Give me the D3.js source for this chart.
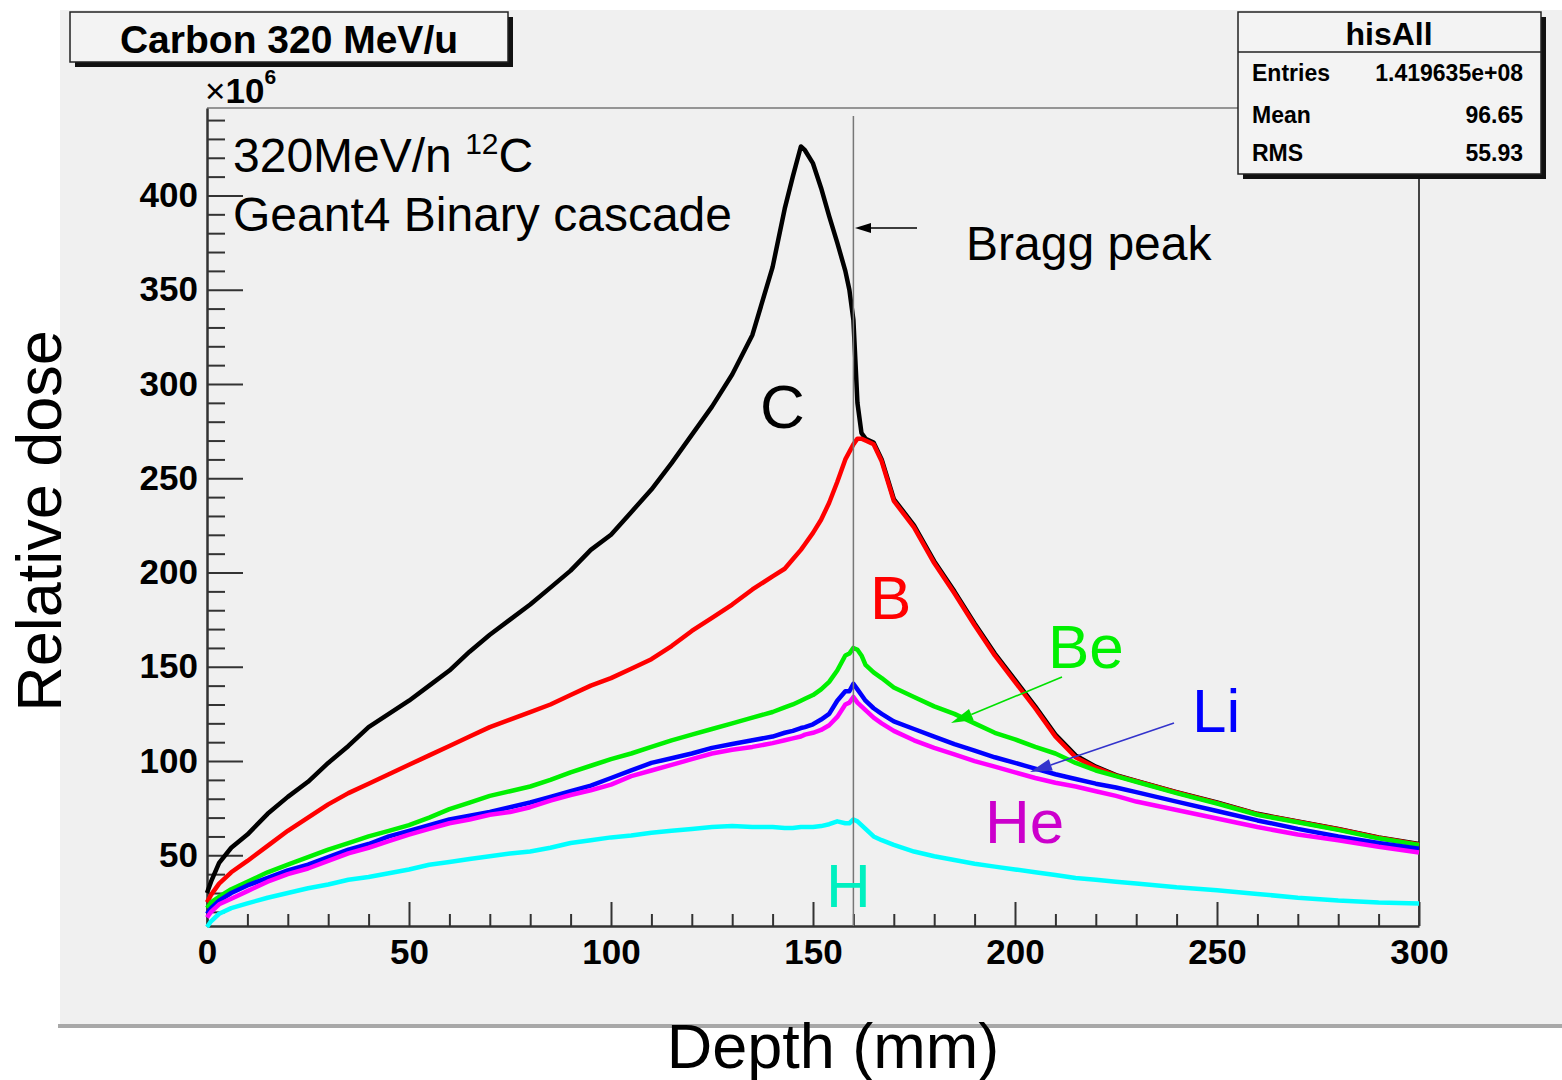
<!DOCTYPE html>
<html><head><meta charset="utf-8">
<script src="https://cdn.jsdelivr.net/npm/d3@7"></script>
<style>html,body{margin:0;padding:0;background:#fff;}svg{display:block;}</style>
</head><body>
<svg id="chart" width="1562" height="1080"></svg>
<script>
// ---- data ----
const depth = [0,1,3,6,10,15,20,25,30,35,40,45,50,55,60,65,70,75,80,85,90,95,100,105,110,115,120,125,130,135,140,143,145,147,148,150,152,154,156,158,159,160,161,162,163,165,167,170,175,180,185,190,195,200,205,210,215,220,225,230,240,250,260,270,280,290,300];
const doseC  = [30,36,46,54,61,72,81,89,99,108,118,125,132,140,148,158,167,175,183,192,201,212,220,232,244,258,273,288,305,326,362,393,410,426,424,417,404,389,375,360,350,334,290,274,271,269,260,239,225,206,190,173,157,143,129,114,103,97,92.5,89.5,83.5,78,72,68,64,59.5,56];
const doseB  = [25,29,35,41,47,55,63,70,77,83,88,93,98,103,108,113,118,122,126,130,135,140,144,149,154,161,169,176,183,191,198,202,207,212,215,221,228,237,248,260,264,268,271,271,270,268,259,238,224,205,189,172,156,142,128,113,102,96.5,92.3,89.3,83.3,77.8,71.8,67.8,63.8,59.3,55.8];
const doseBe = [22,25,28,32,36,41,45,49,53,56.5,60,63,66,70,74.5,78,81.5,84,86.5,90,94,97.5,101,104,107.5,111,114,117,120,123,126,128.5,130,132,133,135,138,142,148,156,157,160,159,156,151,147,144,139,134,129,125,120,115,111.5,107.5,104,99,95,92,89,83,77.5,71.5,67.5,63.5,59,55.5];
const doseLi = [19,22,26,30,34,38,42,45,49,53,56,60,63,66,69,71,73,75.5,78,81,84,87,91,95,99,101.5,104,107,109,111,113,115,116,117.5,118,119.5,122,125,132,137,137,141,138,135,132,128,125,121,117,113,109,105.5,102,99,96,93,90.5,88,86,83.5,78.5,73.5,68.5,64,60,56.5,53.5];
const doseHe = [17,20,24,27,31,36,40,43,47,51,54,57.5,61,64,67,69,71.5,73,75.5,79,82,84.5,87.5,92,95,98,101,104,106,107.5,109.5,111,112,113,114,115,116.5,119,123.4,130,131,134,131,129,127,123,120,116,111,107,103.5,100,97,94,91,88.5,86.5,84,81.5,78.5,74,69.5,65,61,58,54.5,51.5];
const doseH  = [12,15,19,22,24.5,27.5,30,32.5,34.5,37,38.5,40.5,42.5,45,46.5,48,49.5,51,52,54,56.5,58,59.5,60.5,62,63,64,65,65.5,65,65,64.5,64.5,65,65,65,65.5,66.5,68,67,67,69,68,66,64,60,58,55.5,52,49.5,47.5,45.5,44,42.5,41,39.5,38,37,36,35,33,31.5,29.5,27.5,26,25,24.5];

const seriesNames = ["C","B","Be","Li","He","H"];
const xMajorTicks = [0,50,100,150,200,250,300];
const xMinorTicks = [10,20,30,40,60,70,80,90,110,120,130,140,160,170,180,190,210,220,230,240,260,270,280,290];
const yMajorTicks = [50,100,150,200,250,300,350,400];
const yMinorTicks = [20,30,40,60,70,80,90,110,120,130,140,160,170,180,190,210,220,230,240,260,270,280,290,310,320,330,340,360,370,380,390,410,420,430,440];
const braggDepth = 160;
const statsRows = [["Entries","1.419635e+08"],["Mean","96.65"],["RMS","55.93"]];

// ---- drawing ----
const svg = d3.select("#chart");
const FONT = "'Liberation Sans', Arial, Helvetica, sans-serif";
const x = d3.scaleLinear().domain([0,300]).range([207,1419]);
const y = d3.scaleLinear().domain([12.5,446.4]).range([926,108]);

// canvas background
svg.append("rect").attr("x",60).attr("y",10).attr("width",1502).attr("height",1015).attr("fill","#f0f0f0");
svg.append("rect").attr("x",58).attr("y",1024).attr("width",1504).attr("height",4).attr("fill","#a8a8a8");

// boxes with shadow
function box(x0,y0,w,h){
  svg.append("rect").attr("x",x0+5).attr("y",y0+5).attr("width",w).attr("height",h).attr("fill","#111");
  svg.append("rect").attr("x",x0).attr("y",y0).attr("width",w).attr("height",h).attr("fill","#f3f3f3").attr("stroke","#222").attr("stroke-width",1.5);
}
box(70,12,438,50);
svg.append("text").attr("x",289).attr("y",53).attr("text-anchor","middle")
  .attr("font-family",FONT).attr("font-weight","bold").attr("font-size",39).text("Carbon 320 MeV/u");

// frame
const frame = svg.append("g");
frame.append("line").attr("x1",207).attr("x2",1419).attr("y1",108).attr("y2",108).attr("stroke","#777").attr("stroke-width",1.5);
frame.append("line").attr("x1",1419).attr("x2",1419).attr("y1",108).attr("y2",926).attr("stroke","#444").attr("stroke-width",2);

// axes
const gx = svg.append("g").attr("transform","translate(0,926)");
gx.call(d3.axisBottom(x).tickValues(xMinorTicks).tickSizeInner(-12).tickSizeOuter(0).tickFormat(""));
gx.call(g=>g.select(".domain").remove());
const gx2 = svg.append("g").attr("transform","translate(0,926)");
gx2.call(d3.axisBottom(x).tickValues(xMajorTicks).tickSizeInner(-24).tickSizeOuter(0).tickPadding(13).tickFormat(d3.format("d")));
[gx,gx2].forEach(g=>{g.selectAll("line").attr("stroke","#333").attr("stroke-width",2);});
gx2.select(".domain").attr("stroke","#333").attr("stroke-width",2.5);
gx2.selectAll("text").attr("font-family",FONT).attr("font-weight","bold").attr("font-size",35).attr("fill","#000");

const gy = svg.append("g").attr("transform","translate(207,0)");
gy.call(d3.axisLeft(y).tickValues(yMinorTicks).tickSizeInner(-18).tickSizeOuter(0).tickFormat(""));
gy.call(g=>g.select(".domain").remove());
const gy2 = svg.append("g").attr("transform","translate(207,0)");
gy2.call(d3.axisLeft(y).tickValues(yMajorTicks).tickSizeInner(-36).tickSizeOuter(0).tickPadding(9).tickFormat(d3.format("d")));
[gy,gy2].forEach(g=>{g.selectAll("line").attr("stroke","#333").attr("stroke-width",2);});
gy2.select(".domain").attr("stroke","#333").attr("stroke-width",2.5);
gy2.selectAll("text").attr("font-family",FONT).attr("font-weight","bold").attr("font-size",35).attr("fill","#000");

// x10^6
const mult = svg.append("text").attr("x",205).attr("y",103).attr("font-family",FONT).attr("font-size",35);
mult.append("tspan").text("×");
mult.append("tspan").attr("font-weight","bold").text("10");
mult.append("tspan").attr("font-weight","bold").attr("font-size",21).attr("dy",-19).text("6");

// curves
const series = [
  {name:"C", v:doseC, color:"#000000"},
  {name:"B", v:doseB, color:"#ff0000"},
  {name:"Be", v:doseBe, color:"#00f000"},
  {name:"Li", v:doseLi, color:"#0000ff"},
  {name:"He", v:doseHe, color:"#ff00ff"},
  {name:"H", v:doseH, color:"#00ffff"}
];
const line = d3.line().x(d=>x(d[0])).y(d=>y(d[1])).curve(d3.curveLinear);
svg.append("g").selectAll("path").data(series).join("path")
  .attr("d",s=>line(depth.map((d,i)=>[d,s.v[i]])))
  .attr("fill","none").attr("stroke",s=>s.color).attr("stroke-width",4.5).attr("stroke-linejoin","round");

// Bragg peak vertical line
svg.append("line").attr("x1",x(braggDepth)).attr("x2",x(braggDepth)).attr("y1",116).attr("y2",926)
  .attr("stroke","#777").attr("stroke-width",1.5);

// arrows
function arrow(x1,y1,x2,y2,color,w,hl,hw){
  const ang = Math.atan2(y2-y1,x2-x1);
  const bx = x2 - hl*Math.cos(ang), by = y2 - hl*Math.sin(ang);
  svg.append("line").attr("x1",x1).attr("y1",y1).attr("x2",bx).attr("y2",by).attr("stroke",color).attr("stroke-width",w);
  const px = -Math.sin(ang)*hw/2, py = Math.cos(ang)*hw/2;
  svg.append("path").attr("d",`M${x2},${y2}L${bx+px},${by+py}L${bx-px},${by-py}Z`).attr("fill",color);
}
arrow(917,228,855,228,"#000",1.6,16,10);
arrow(1062,677,951,723,"#00e000",1.6,22,12);
arrow(1174,723,1030,772,"#3333cc",1.6,22,12);

// annotations
const t1 = svg.append("text").attr("x",233).attr("y",172).attr("font-family",FONT).attr("font-size",48);
t1.append("tspan").text("320MeV/n ");
t1.append("tspan").attr("font-size",30).attr("dy",-18).text("12");
t1.append("tspan").attr("dy",18).text("C");
svg.append("text").attr("x",233).attr("y",231).attr("font-family",FONT).attr("font-size",48).text("Geant4 Binary cascade");
svg.append("text").attr("x",966).attr("y",260).attr("font-family",FONT).attr("font-size",48).text("Bragg peak");

const labels = [
  {t:"C", x:760, y:428, c:"#000000"},
  {t:"B", x:870, y:619, c:"#ff0000"},
  {t:"Be", x:1048, y:668, c:"#00f000"},
  {t:"Li", x:1192, y:732, c:"#0000ff"},
  {t:"He", x:985, y:843, c:"#cc00cc"},
  {t:"H", x:826, y:907, c:"#00f0c0"}
];
svg.append("g").selectAll("text").data(labels).join("text")
  .attr("x",d=>d.x).attr("y",d=>d.y).attr("fill",d=>d.c)
  .attr("font-family",FONT).attr("font-size",62).text(d=>d.t);

// stats box
box(1238,12,303,162);
svg.append("line").attr("x1",1238).attr("x2",1541).attr("y1",52).attr("y2",52).attr("stroke","#222").attr("stroke-width",1.5);
svg.append("text").attr("x",1389).attr("y",45).attr("text-anchor","middle").attr("font-family",FONT)
  .attr("font-weight","bold").attr("font-size",32).text("hisAll");
const rowY = [81,123,161];
statsRows.forEach((r,i)=>{
  svg.append("text").attr("x",1252).attr("y",rowY[i]).attr("font-family",FONT).attr("font-weight","bold").attr("font-size",23).text(r[0]);
  svg.append("text").attr("x",1523).attr("y",rowY[i]).attr("text-anchor","end").attr("font-family",FONT).attr("font-weight","bold").attr("font-size",23).text(r[1]);
});

// axis titles
svg.append("text").attr("transform","translate(61,521) rotate(-90)").attr("text-anchor","middle")
  .attr("font-family",FONT).attr("font-size",63).text("Relative dose");
svg.append("text").attr("x",833).attr("y",1068).attr("text-anchor","middle")
  .attr("font-family",FONT).attr("font-size",63).text("Depth (mm)");
</script>
</body></html>
